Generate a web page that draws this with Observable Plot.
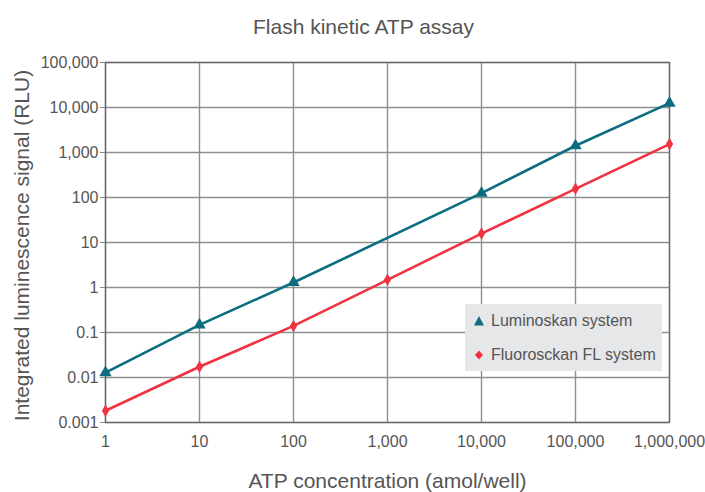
<!DOCTYPE html>
<html>
<head>
<meta charset="utf-8">
<script src="https://cdn.jsdelivr.net/npm/d3@7"></script>
<script src="https://cdn.jsdelivr.net/npm/@observablehq/plot@0.6"></script>
<style>
  html, body { margin: 0; padding: 0; background: #fff; }
  #wrap { position: relative; width: 705px; height: 492px; overflow: hidden; font-family: "Liberation Sans", Arial, sans-serif; }
  #legend { position: absolute; left: 465px; top: 304px; width: 197px; height: 67px; background: #e6e7e9; color: #555; font-size: 16px; }
  .li { position: absolute; left: 8px; display: flex; align-items: center; }
  .li svg { margin-right: 6px; }
</style>
</head>
<body>
<div id="wrap"></div>
<script>
const title = "Flash kinetic ATP assay";
const xLabel = "ATP concentration (amol/well)";
const yLabel = "Integrated luminescence signal (RLU)";
const seriesNames = ["Luminoskan system", "Fluorosckan FL system"];
const seriesColors = ["#0b6e80", "#ef3340"];

const lumiX = [1, 10, 100, 10000, 100000, 1000000];
const lumiY = [0.0128, 0.148, 1.29, 125, 1410, 12500];
const fluoX = [1, 10, 100, 1000, 10000, 100000, 1000000];
const fluoY = [0.00182, 0.0173, 0.14, 1.48, 15.8, 156, 1540];

const xTicks = [1, 10, 100, 1000, 10000, 100000, 1000000];
const yTicks = [0.001, 0.01, 0.1, 1, 10, 100, 1000, 10000, 100000];

const lumi = lumiX.map((x, i) => ({x, y: lumiY[i]}));
const fluo = fluoX.map((x, i) => ({x, y: fluoY[i]}));
const fmt = d => d >= 1 ? d3.format(",")(d) : String(d);

const chart = Plot.plot({
  width: 705,
  height: 492,
  marginLeft: 105,
  marginRight: 36,
  marginTop: 62,
  marginBottom: 70,
  style: {fontFamily: "Liberation Sans, Arial, sans-serif", color: "#555", background: "#fff"},
  x: {type: "log", domain: [1, 1000000]},
  y: {type: "log", domain: [0.001, 100000]},
  marks: [
    Plot.ruleX(xTicks, {stroke: "#8f8f8f", strokeWidth: 1.4}),
    Plot.ruleY(yTicks, {stroke: "#8f8f8f", strokeWidth: 1.4}),
    Plot.frame({stroke: "#666", strokeWidth: 1.3}),
    Plot.axisY({ticks: yTicks, tickFormat: fmt, tickSize: 5, tickPadding: 2, label: null, fontSize: 16, stroke: "#888"}),
    Plot.axisX({ticks: xTicks, tickFormat: fmt, tickSize: 0, tickPadding: 13, label: null, fontSize: 16}),
    Plot.line(lumi, {x: "x", y: "y", stroke: seriesColors[0], strokeWidth: 2.6}),
    Plot.dot(lumi, {x: "x", y: "y", symbol: "triangle", fill: seriesColors[0], r: 4.6}),
    Plot.line(fluo, {x: "x", y: "y", stroke: seriesColors[1], strokeWidth: 2.6}),
    Plot.dot(fluo, {x: "x", y: "y", symbol: "diamond", fill: seriesColors[1], r: 3.8}),
    Plot.text([title], {frameAnchor: "top", textAnchor: "middle", dx: -24, dy: -43, fontSize: 21, fill: "#555"}),
    Plot.text([yLabel], {frameAnchor: "left", textAnchor: "middle", rotate: -90, dx: -83, dy: 3, fontSize: 21, fill: "#555"}),
    Plot.text([xLabel], {frameAnchor: "bottom", textAnchor: "middle", dy: 65, fontSize: 21, fill: "#555"})
  ]
});

const wrap = document.getElementById("wrap");
wrap.appendChild(chart);

const leg = document.createElement("div");
leg.id = "legend";
const sym = [
  '<svg width="12" height="12" viewBox="-6 -6 12 12"><path d="M0,-5L5,4.5L-5,4.5Z" fill="' + seriesColors[0] + '"/></svg>',
  '<svg width="12" height="12" viewBox="-6 -6 12 12"><path d="M0,-4.5L4,0L0,4.5L-4,0Z" fill="' + seriesColors[1] + '"/></svg>'
];
seriesNames.forEach((n, i) => {
  const d = document.createElement("div");
  d.className = "li";
  d.style.top = (i === 0 ? 8 : 42) + "px";
  d.innerHTML = sym[i] + "<span>" + n + "</span>";
  leg.appendChild(d);
});
wrap.appendChild(leg);
</script>
</body>
</html>
